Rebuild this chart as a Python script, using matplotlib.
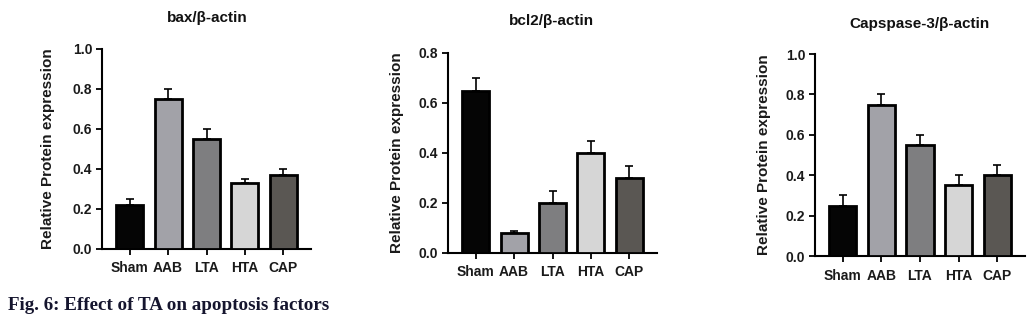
import matplotlib
matplotlib.use("Agg")
import matplotlib.pyplot as plt
import numpy as np

groups = ["Sham", "AAB", "LTA", "HTA", "CAP"]
bar_colors = ["#050505", "#a2a2a8", "#7e7e80", "#d6d6d6", "#5a5753"]

bax = [0.22, 0.75, 0.55, 0.33, 0.37]
bax_err = [0.03, 0.05, 0.05, 0.02, 0.03]

bcl2 = [0.65, 0.08, 0.20, 0.40, 0.30]
bcl2_err = [0.05, 0.01, 0.05, 0.05, 0.05]

casp3 = [0.25, 0.75, 0.55, 0.35, 0.40]
casp3_err = [0.05, 0.05, 0.05, 0.05, 0.05]

titles = ["bax/β-actin", "bcl2/β-actin", "Capspase-3/β-actin"]
ymax = [1.0, 0.8, 1.0]

plt.rcParams['font.family'] = ['Liberation Sans', 'DejaVu Sans']

W, H = 1033, 320
fig = plt.figure(figsize=(W / 100, H / 100), dpi=100)

# axes boxes in pixels: left, right, top, bottom
boxes = [(102, 311, 49, 249), (448, 657, 53, 253), (815, 1025, 54, 256)]
title_pos = [(207, 18), (552, 21), (920, 24)]
label_x = [-0.225, -0.21, -0.21]

data = [(bax, bax_err), (bcl2, bcl2_err), (casp3, casp3_err)]
x = np.arange(len(groups))

for i, (vals, errs) in enumerate(data):
    l, r, t, b = boxes[i]
    ax = fig.add_axes([l / W, (H - b) / H, (r - l) / W, (b - t) / H])
    ax.bar(x, vals, width=0.7, color=bar_colors, edgecolor="black",
           linewidth=2, zorder=3)
    ax.errorbar(x, vals, yerr=[np.zeros(len(vals)), errs], fmt="none",
                ecolor="black", elinewidth=1.2, capsize=3.2, capthick=1.2,
                zorder=2)
    ax.set_xlim(-0.72, 4.72)
    ax.set_ylim(0, ymax[i])
    ax.set_yticks(np.arange(0, ymax[i] + 0.01, 0.2))
    ax.set_yticklabels(["%.1f" % v for v in np.arange(0, ymax[i] + 0.01, 0.2)])
    ax.set_xticks(x)
    ax.set_xticklabels(groups)
    for s in ["top", "right"]:
        ax.spines[s].set_visible(False)
    for s in ["left", "bottom"]:
        ax.spines[s].set_linewidth(1.5)
    ax.tick_params(axis="both", width=1.3, length=4, labelsize=10, pad=3)
    ax.tick_params(axis="x", pad=5)
    for lab in ax.get_xticklabels() + ax.get_yticklabels():
        lab.set_fontweight("bold")
        lab.set_color("#1a1a1a")
    ax.set_ylabel("Relative Protein expression", fontsize=11, fontweight="bold",
                  color="#1a1a1a")
    ax.yaxis.set_label_coords(label_x[i], 0.5)
    tx, ty = title_pos[i]
    fig.text(tx / W, 1 - ty / H, titles[i], ha="center", va="center",
             fontsize=11, fontweight="bold", color="#111111")

fig.text(8 / W, 1 - 305 / H, "Fig. 6: Effect of TA on apoptosis factors",
         ha="left", va="center", fontsize=13.7, fontweight="bold",
         family="Liberation Serif", color="#15152e")

fig.savefig("out.png", dpi=100, facecolor="white")
